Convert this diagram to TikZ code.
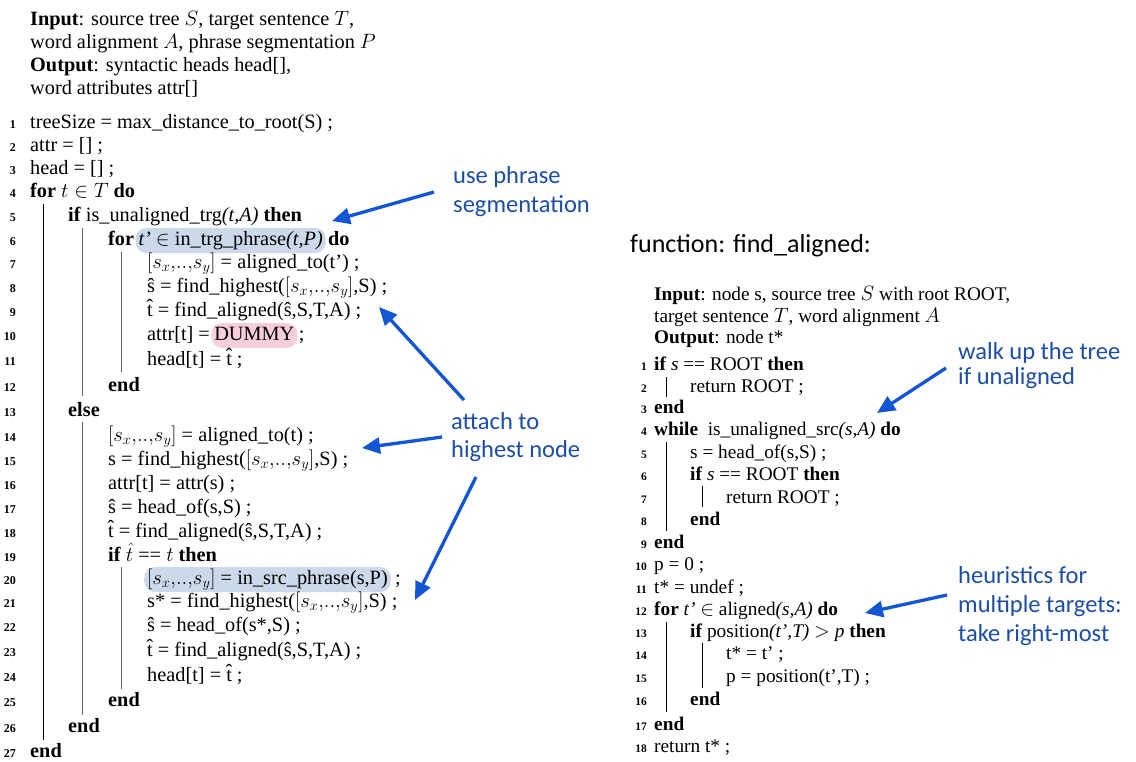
\documentclass[tikz,border=0pt]{standalone}
\usepackage{fontspec}
\setmainfont{Liberation Serif}
\newfontfamily\annfont{Carlito}
\usetikzlibrary{arrows.meta}
\definecolor{arrowblue}{RGB}{18,86,214}
\definecolor{anntext}{RGB}{28,78,168}
\definecolor{hlblue}{RGB}{203,217,235}
\definecolor{hlpink}{RGB}{247,207,219}
\newcommand{\sxy}{$[s_x{,}..{,}s_y]$}
\tikzset{
 codeL/.style={anchor=base west, inner sep=0pt, font=\fontsize{20.3}{24}\selectfont},
 codeR/.style={anchor=base west, inner sep=0pt, font=\fontsize{19.3}{22}\selectfont},
 numL/.style={anchor=base east, inner sep=0pt, font=\fontsize{12}{12}\selectfont\bfseries},
 numR/.style={anchor=base east, inner sep=0pt, font=\fontsize{11.5}{12}\selectfont\bfseries},
 hlbox/.style={fill=#1, rounded corners=11pt, inner xsep=3pt, inner ysep=3pt, text height=14pt, text depth=5pt},
 ann/.style={anchor=base west, inner sep=0pt, text=anntext, font=\annfont\fontsize{24.5}{28}\selectfont},
 title/.style={anchor=base west, inner sep=0pt, text=black, font=\annfont\fontsize{26}{30}\selectfont},
 callout/.style={draw=arrowblue, line width=3.3pt, -{Triangle[length=18pt,width=16pt]}},
 vlblack/.style={line width=1pt, black},
 vlgray/.style={line width=1pt, black!60},
}
\begin{document}
\begin{tikzpicture}[x=1pt,y=-1pt]
\useasboundingbox[fill=white] (0,0) rectangle (1136,761);
% ---------- left header
\node[codeL] (h1) at (30,25) {\textbf{Input}: source tree $S$, target sentence $T$,};
\node[codeL] (h2) at (30,48) {word alignment $A$, phrase segmentation $P$};
\node[codeL] (h3) at (30,71) {\textbf{Output}: syntactic heads head[],};
\node[codeL] (h4) at (30,94) {word attributes attr[]};
% ---------- left line numbers
\foreach \n/\y in {1/128,2/151,3/174,4/197,5/221,6/245,7/268,8/292,9/316,10/340,11/365,12/391,13/416,14/441,15/465,16/489,17/513,18/537,19/561,20/584,21/607,22/631,23/656,24/681,25/706,26/732,27/757}
  \node[numL] (ln\n) at (16,\y) {\n};
% ---------- left code
\node[codeL] (l1) at (30,128) {treeSize = max\_distance\_to\_root(S) ;};
\node[codeL] (l2) at (30,151) {attr = [] ;};
\node[codeL] (l3) at (30,174) {head = [] ;};
\node[codeL] (l4) at (30,197) {\textbf{for} $t \in T$ \textbf{do}};
\node[codeL] (l5) at (68,221) {\textbf{if} is\_unaligned\_trg\textit{(t,A)} \textbf{then}};
\node[codeL] (l6a) at (108,245) {\textbf{for}};
\node[codeL, hlbox=hlblue] (l6b) at ([xshift=1pt]l6a.base east) {\textit{t’} $\in$ in\_trg\_phrase\textit{(t,P)}};
\node[codeL] (l6c) at ([xshift=2pt]l6b.base east) {\textbf{do}};
\node[codeL] (l7) at (147,268) {\sxy{} = aligned\_to(t’) ;};
\node[codeL] (l8) at (147,292) {ŝ = find\_highest(\sxy,S) ;};
\node[codeL] (l9) at (147,316) {\^{t} = find\_aligned(ŝ,S,T,A) ;};
\node[codeL] (l10a) at (147,340) {attr[t] =};
\node[codeL, hlbox=hlpink] (l10b) at ([xshift=1pt]l10a.base east) {DUMMY};
\node[codeL] (l10c) at ([xshift=1pt]l10b.base east) {;};
\node[codeL] (l11) at (147,365) {head[t] = \^{t} ;};
\node[codeL] (l12) at (108,391) {\textbf{end}};
\node[codeL] (l13) at (68,416) {\textbf{else}};
\node[codeL] (l14) at (108,441) {\sxy{} = aligned\_to(t) ;};
\node[codeL] (l15) at (108,465) {s = find\_highest(\sxy,S) ;};
\node[codeL] (l16) at (108,489) {attr[t] = attr(s) ;};
\node[codeL] (l17) at (108,513) {ŝ = head\_of(s,S) ;};
\node[codeL] (l18) at (108,537) {\^{t} = find\_aligned(ŝ,S,T,A) ;};
\node[codeL] (l19) at (108,561) {\textbf{if} $\hat{t}$ == $t$ \textbf{then}};
\node[codeL, hlbox=hlblue] (l20a) at (144,584) {\sxy{} = in\_src\_phrase(s,P)};
\node[codeL] (l20b) at ([xshift=4pt]l20a.base east) {;};
\node[codeL] (l21) at (147,607) {s* = find\_highest(\sxy,S) ;};
\node[codeL] (l22) at (147,631) {ŝ = head\_of(s*,S) ;};
\node[codeL] (l23) at (147,656) {\^{t} = find\_aligned(ŝ,S,T,A) ;};
\node[codeL] (l24) at (147,681) {head[t] = \^{t} ;};
\node[codeL] (l25) at (108,706) {\textbf{end}};
\node[codeL] (l26) at (68,732) {\textbf{end}};
\node[codeL] (l27) at (30,757) {\textbf{end}};
% ---------- left block lines
\draw[vlblack] (43,204) -- (43,740);
\draw[vlgray] (82,228) -- (82,396);
\draw[vlgray] (121,252) -- (121,372);
\draw[vlgray] (82,422) -- (82,715);
\draw[vlgray] (121,567) -- (121,689);
% ---------- right title and header
\node[title] (ftitle) at (630,252) {function: find\_aligned:};
\node[codeR] (rh1) at (654,300) {\textbf{Input}: node s, source tree $S$ with root ROOT,};
\node[codeR] (rh2) at (654,322) {target sentence $T$, word alignment $A$};
\node[codeR] (rh3) at (654,343) {\textbf{Output}: node t*};
% ---------- right numbers
\foreach \n/\y in {1/370,2/392,3/413,4/435,5/458,6/480,7/503,8/525,9/548,10/570,11/593,12/615,13/637,14/659,15/682,16/705,17/730,18/752}
  \node[numR] (rn\n) at (647,\y) {\n};
% ---------- right code
\node[codeR] (r1) at (654,370) {\textbf{if} \textit{s} == ROOT \textbf{then}};
\node[codeR] (r2) at (690,392) {return ROOT ;};
\node[codeR] (r3) at (654,413) {\textbf{end}};
\node[codeR] (r4) at (654,435) {\textbf{while}\ \ is\_unaligned\_src\textit{(s,A)} \textbf{do}};
\node[codeR] (r5) at (690,458) {s = head\_of(s,S) ;};
\node[codeR] (r6) at (690,480) {\textbf{if} \textit{s} == ROOT \textbf{then}};
\node[codeR] (r7) at (726,503) {return ROOT ;};
\node[codeR] (r8) at (690,525) {\textbf{end}};
\node[codeR] (r9) at (654,548) {\textbf{end}};
\node[codeR] (r10) at (654,570) {p = 0 ;};
\node[codeR] (r11) at (654,593) {t* = undef ;};
\node[codeR] (r12) at (654,615) {\textbf{for} \textit{t’} $\in$ aligned\textit{(s,A)} \textbf{do}};
\node[codeR] (r13) at (690,637) {\textbf{if} position\textit{(t’,T)} $>$ \textit{p} \textbf{then}};
\node[codeR] (r14) at (726,659) {t* = t’ ;};
\node[codeR] (r15) at (726,682) {p = position(t’,T) ;};
\node[codeR] (r16) at (690,705) {\textbf{end}};
\node[codeR] (r17) at (654,730) {\textbf{end}};
\node[codeR] (r18) at (654,752) {return t* ;};
% ---------- right block lines
\draw[vlblack] (666,377) -- (666,397);
\draw[vlblack] (666,442) -- (666,531);
\draw[vlblack] (702,486) -- (702,507);
\draw[vlblack] (666,622) -- (666,712);
\draw[vlblack] (702,643) -- (702,688);
% ---------- annotations
\node[ann] (an1a) at (453,183) {use phrase};
\node[ann] (an1b) at (453,212) {segmentation};
\node[ann] (an2a) at (451,429) {attach to};
\node[ann] (an2b) at (451,457) {highest node};
\node[ann] (an3a) at (958,359) {walk up the tree};
\node[ann] (an3b) at (958,384) {if unaligned};
\node[ann] (an4a) at (958,583) {heuristics for};
\node[ann] (an4b) at (958,612) {multiple targets:};
\node[ann] (an4c) at (958,641) {take right-most};
% ---------- callout arrows
\coordinate (a1s) at (434,192); \coordinate (a1e) at (332,221);
\coordinate (a2s) at (464,400); \coordinate (a2e) at (379,307);
\coordinate (a3s) at (442,437); \coordinate (a3e) at (362,448);
\coordinate (a4s) at (476,477); \coordinate (a4e) at (415,600);
\coordinate (a5s) at (946,368); \coordinate (a5e) at (877,413);
\coordinate (a6s) at (947,595); \coordinate (a6e) at (865,613);
\draw[callout] (a1s) -- (a1e);
\draw[callout] (a2s) -- (a2e);
\draw[callout] (a3s) -- (a3e);
\draw[callout] (a4s) -- (a4e);
\draw[callout] (a5s) -- (a5e);
\draw[callout] (a6s) -- (a6e);
\end{tikzpicture}
\end{document}
